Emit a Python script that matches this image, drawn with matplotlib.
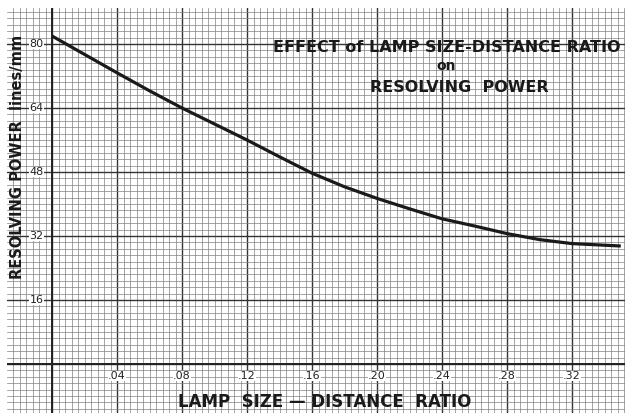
import matplotlib.pyplot as plt
from matplotlib.ticker import MultipleLocator

# values
ratio = [0.0, 0.02, 0.04, 0.06, 0.08, 0.10, 0.12, 0.14, 0.16, 0.18,
         0.20, 0.22, 0.24, 0.26, 0.28, 0.30, 0.32, 0.34, 0.35]
power = [82.0, 77.4, 72.8, 68.3, 64.0, 60.0, 56.0, 51.8, 47.7, 44.3,
         41.4, 38.8, 36.3, 34.5, 32.6, 31.1, 30.1, 29.7, 29.5]

x_ticks = [0.04, 0.08, 0.12, 0.16, 0.20, 0.24, 0.28, 0.32]
x_labels = ['.04', '.08', '.12', '.16', '.20', '.24', '.28', '.32']
y_ticks = [16, 32, 48, 64, 80]
y_labels = ['16', '32', '48', '64', '80']

W, H = 625, 413
fig = plt.figure(figsize=(W / 100, H / 100), dpi=100)
ax = fig.add_axes([7 / W, 0, 618 / W, 405 / H])

ax.set_xlim(-0.0277, 0.3526)
ax.set_ylim(-12.25, 89)

# graph paper
ax.xaxis.set_major_locator(MultipleLocator(0.04))
ax.xaxis.set_minor_locator(MultipleLocator(0.004))
ax.yaxis.set_major_locator(MultipleLocator(16))
ax.yaxis.set_minor_locator(MultipleLocator(1.6))
ax.grid(which='minor', color='#808080', lw=0.5)
ax.grid(which='major', color='#333333', lw=1.0)
ax.tick_params(which='both', length=0, labelbottom=False, labelleft=False)
for s in ax.spines.values():
    s.set_visible(False)
ax.set_axisbelow(True)

ax.axvline(0, color='#222222', lw=1.4)
ax.axhline(0, color='#222222', lw=1.4)

ax.plot(ratio, power, color='#1a1a1a', lw=2.3, solid_capstyle='butt')

for v, t in zip(x_ticks, x_labels):
    ax.text(v, -3.0, t, ha='center', va='center', fontsize=8,
            color='#222222', bbox=dict(fc='white', ec='none', pad=0.3))
for v, t in zip(y_ticks, y_labels):
    ax.text(-0.0095, v, t, ha='center', va='center', fontsize=8,
            color='#222222', bbox=dict(fc='white', ec='none', pad=0.3))

# titles and axis labels sit on top of the grid
fig.text(447 / W, 1 - 47 / H, 'EFFECT of LAMP SIZE-DISTANCE RATIO',
         ha='center', va='center', fontsize=11.5, fontweight='bold', color='#1a1a1a')
fig.text(446 / W, 1 - 66 / H, 'on', ha='center', va='center',
         fontsize=10, fontweight='bold', color='#1a1a1a')
fig.text(459 / W, 1 - 88 / H, 'RESOLVING  POWER', ha='center', va='center',
         fontsize=11.5, fontweight='bold', color='#1a1a1a')
fig.text(325 / W, 1 - 402 / H, 'LAMP  SIZE — DISTANCE  RATIO',
         ha='center', va='center', fontsize=12, fontweight='bold', color='#1a1a1a')
fig.text(18 / W, 1 - 157 / H, 'RESOLVING POWER  lines/mm', rotation=90,
         ha='center', va='center', fontsize=10.5, fontweight='bold', color='#1a1a1a')

fig.savefig('out.png', dpi=100)
